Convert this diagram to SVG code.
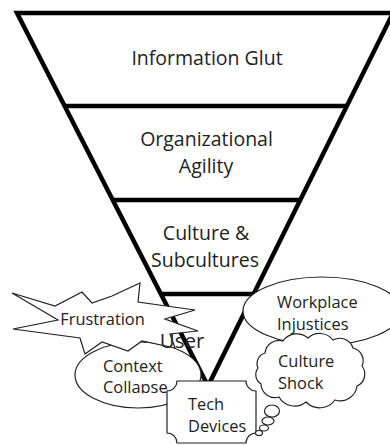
<svg xmlns="http://www.w3.org/2000/svg" width="390" height="445" viewBox="0 0 390 445">
  <defs>
    <style>
      .funnel { fill: #fff; stroke: #000; stroke-width: 4.5; stroke-linejoin: miter; }
      .bar { stroke: #000; stroke-width: 4.5; }
      .shape { fill: #fff; stroke: #222; stroke-width: 1.2; }
      .big { font-family: "Open Sans", "Liberation Sans", sans-serif; font-size: 19.5px; fill: #222; text-anchor: middle; }
      .small { font-family: "Open Sans", "Liberation Sans", sans-serif; font-size: 16.4px; fill: #222; }
    </style>
    <clipPath id="collapseClip">
      <rect x="60" y="330" width="150" height="63.5"/>
    </clipPath>
  </defs>

  <rect width="390" height="445" fill="#fff"/>

  <!-- inverted funnel with its four levels -->
  <g id="funnel">
    <path class="funnel" d="M17,13 L393,13 L208,386 Z"/>
    <line class="bar" x1="65" y1="106" x2="346" y2="106"/>
    <line class="bar" x1="113" y1="200" x2="300" y2="200"/>
    <line class="bar" x1="161" y1="294" x2="253" y2="294"/>
    <text class="big" x="207" y="65">Information Glut</text>
    <text class="big"><tspan x="206.5" y="146">Organizational</tspan><tspan x="206" y="172.6">Agility</tspan></text>
    <text class="big"><tspan x="206" y="240">Culture &amp;</tspan><tspan x="205" y="266.6">Subcultures</tspan></text>
  </g>

  <g id="workplace-injustices">
    <ellipse class="shape" cx="322" cy="311" rx="79" ry="34"/>
    <text class="small"><tspan x="277" y="308">Workplace</tspan><tspan x="277" y="330">Injustices</tspan></text>
  </g>

  <g id="context-collapse">
    <ellipse class="shape" cx="138" cy="375" rx="63" ry="33"/>
    <text class="small" clip-path="url(#collapseClip)"><tspan x="103" y="372">Context</tspan><tspan x="103" y="393">Collapse</tspan></text>
  </g>

  <g id="frustration">
    <path class="shape" d="M12,293 L55,306 L82,292 L92,303 L112,296 L140,283 L138,302 L195,310 L165,319 L198,331 L170,334 L175,348 L142,341 L128,351 L102,342 L85,354 L80,338 L13,329 L58,320 Z"/>
    <text class="small" x="102.5" y="325" text-anchor="middle">Frustration</text>
  </g>

  <g id="user">
    <text class="big" x="182" y="348" text-anchor="start" style="font-size:20.5px">User</text>
  </g>

  <g id="tech-devices">
    <path class="shape" d="M167,391 A10,10 0 0 0 177,381 L246,381 A10,10 0 0 0 256,391 L256,433 A10,10 0 0 0 246,443 L177,443 A10,10 0 0 0 167,433 Z"/>
    <text class="small"><tspan x="188" y="410">Tech</tspan><tspan x="188" y="432">Devices</tspan></text>
  </g>

  <g id="culture-shock">
    <path class="shape" d="M265,353 A14,14 0 0 1 283,341 A17,17 0 0 1 308,338 A17,17 0 0 1 333,340 A14,14 0 0 1 353,348 A13,13 0 0 1 362,366 A13,13 0 0 1 357,386 A17,17 0 0 1 335,400 A19,19 0 0 1 306,402 A18,18 0 0 1 279,397 A14,14 0 0 1 261,384 A11,11 0 0 1 258,368 A11,11 0 0 1 265,353 Z"/>
    <ellipse class="shape" cx="272" cy="411" rx="7.5" ry="6"/>
    <ellipse class="shape" cx="268" cy="421" rx="6" ry="4"/>
    <ellipse class="shape" cx="264" cy="428" rx="4.5" ry="3"/>
    <ellipse class="shape" cx="259" cy="433" rx="3.5" ry="2.5"/>
    <text class="small"><tspan x="278" y="367">Culture</tspan><tspan x="278" y="389">Shock</tspan></text>
  </g>
</svg>
